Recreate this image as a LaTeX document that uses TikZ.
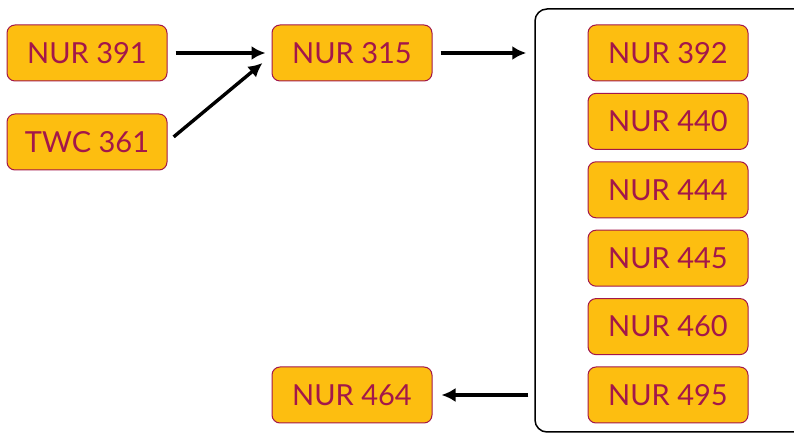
\documentclass[tikz,border=0pt]{standalone}
\usepackage{fontspec}
\setmainfont{Lato}
\usetikzlibrary{arrows.meta,positioning}
\definecolor{gold}{HTML}{FDBE10}
\definecolor{wine}{HTML}{A3174A}

\begin{document}
\begin{tikzpicture}[x=1pt,y=1pt,>={Latex[length=14pt,width=14pt]},node distance=68.4pt,on grid,
  course/.style={draw=wine,fill=gold,text=wine,line width=1pt,rounded corners=8pt,
    minimum width=160pt,minimum height=56pt,font=\fontsize{29}{30}\selectfont},
  link/.style={->,line width=3.4pt}]
  \useasboundingbox (0,0) rectangle (794,433);
  \node[course]          (391) at (87,380)             {NUR 391};
  \node[course]          (361) [below=89pt of 391]     {TWC 361};
  \node[course]          (315) [right=265pt of 391]    {NUR 315};
  \node[course]          (392) [right=316pt of 315]    {NUR 392};
  \node[course]          (440) [below=of 392]          {NUR 440};
  \node[course]          (444) [below=of 440]          {NUR 444};
  \node[course]          (445) [below=of 444]          {NUR 445};
  \node[course]          (460) [below=of 445]          {NUR 460};
  \node[course]          (495) [below=of 460]          {NUR 495};
  \node[course]          (464) [left=316pt of 495]     {NUR 464};
  % the group of courses on the right
  \node[draw,line width=1.5pt,rounded corners=12pt,minimum width=320pt,minimum height=423pt]
                         (group) [right=343pt of 315,yshift=-167.5pt] {};
  \draw[link,shorten <=8pt,shorten >=6pt] (391.east) -- (315.west);
  \draw[link,shorten <=8pt] (361.east) -- ([xshift=-9pt,yshift=-10pt]315.west);
  \draw[link,shorten <=8pt,shorten >=8pt] (315.east) -- (315 -| group.west);
  \draw[link,shorten <=6pt,shorten >=9pt] (495 -| group.west) -- (464.east);
\end{tikzpicture}
\end{document}
